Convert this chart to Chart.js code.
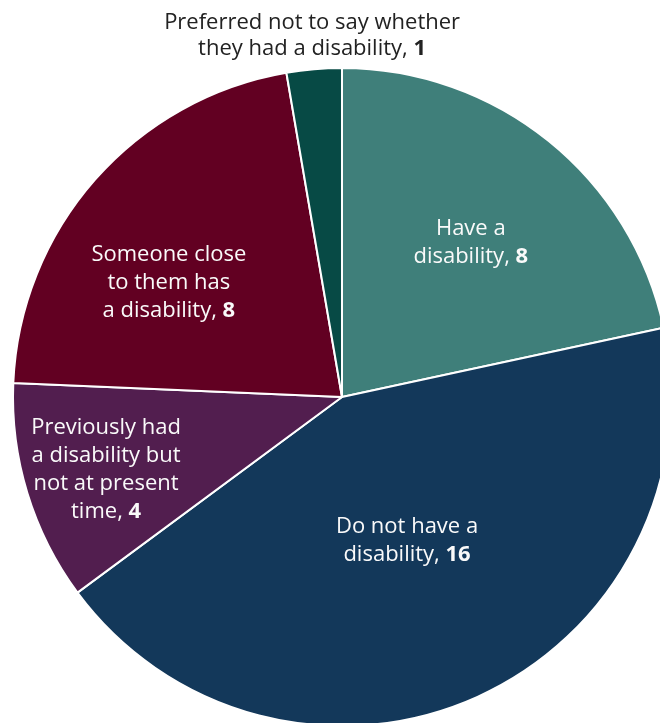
<!DOCTYPE html>
<html lang="en">
<head>
    <meta charset="UTF-8">
    <title>Disability</title>
    <script src="https://cdn.jsdelivr.net/npm/chart.js"></script>
    <style>
        html, body {
            margin: 0;
            padding: 0;
            background: #fff;
            width: 660px;
            height: 723px;
            overflow: hidden;
        }
        #wrap {
            position: absolute;
            left: 0;
            top: 0;
            width: 684px;
            height: 794px;
        }
    </style>
</head>
<body>
    <div id="wrap">
        <canvas id="pieChart"></canvas>
    </div>

    <script>
        // data, clockwise from 12 o'clock
        const categories = [
            'Have a disability',
            'Do not have a disability',
            'Previously had a disability but not at present time',
            'Someone close to them has a disability',
            'Preferred not to say whether they had a disability'
        ];
        const counts = [8, 16, 4, 8, 1];
        const colors = ['#3f7f7a', '#13385a', '#521e4f', '#620022', '#074a45'];

        // label text lines, last line ends with the bold value
        const labelLines = [
            ['Have a', 'disability, '],
            ['Do not have a', 'disability, '],
            ['Previously had', 'a disability but', 'not at present', 'time, '],
            ['Someone close', 'to them has', 'a disability, '],
            ['Preferred not to say whether', 'they had a disability, ']
        ];
        // [radius fraction, angle nudge in degrees]; null radius = outside on top
        const labelPlace = [[0.61, 1], [0.48, 0], [0.75, 0], [0.63, -8], [null, 0]];

        const FONT = '"Open Sans", "Liberation Sans", sans-serif';
        const SIZE = 22;
        const LINE_H = 28;

        function drawLine(ctx, parts, x, y) {
            const normal = `${SIZE}px ${FONT}`;
            const bold = `bold ${SIZE}px ${FONT}`;
            ctx.font = normal;
            const w1 = ctx.measureText(parts[0]).width;
            ctx.font = bold;
            const w2 = parts[1] ? ctx.measureText(parts[1]).width : 0;
            let left = x - (w1 + w2) / 2;
            ctx.textAlign = 'left';
            ctx.font = normal;
            ctx.fillText(parts[0], left, y);
            if (parts[1]) {
                ctx.font = bold;
                ctx.fillText(parts[1], left + w1, y);
            }
        }

        const labelPlugin = {
            id: 'sliceLabels',
            afterDraw(chart) {
                const ctx = chart.ctx;
                const arcs = chart.getDatasetMeta(0).data;
                ctx.save();
                ctx.textBaseline = 'middle';
                arcs.forEach((arc, i) => {
                    const lines = labelLines[i];
                    const place = labelPlace[i];
                    const mid = (arc.startAngle + arc.endAngle) / 2 + place[1] * Math.PI / 180;
                    let x, y0;
                    if (place[0] === null) {
                        // outside label, above the pie
                        ctx.fillStyle = '#222';
                        x = arc.x + arc.outerRadius * Math.cos(mid) - 2;
                        y0 = chart.chartArea.top - 18 - (lines.length - 1) * 26;
                    } else {
                        ctx.fillStyle = '#fafafa';
                        const r = arc.outerRadius * place[0];
                        x = arc.x + r * Math.cos(mid);
                        const y = arc.y + r * Math.sin(mid);
                        y0 = y - (lines.length - 1) * LINE_H / 2;
                    }
                    const lh = place[0] === null ? 26 : LINE_H;
                    lines.forEach((ln, j) => {
                        const last = j === lines.length - 1;
                        drawLine(ctx, [ln, last ? String(counts[i]) : ''], x, y0 + j * lh);
                    });
                });
                ctx.restore();
            }
        };

        new Chart(document.getElementById('pieChart'), {
            type: 'pie',
            data: {
                labels: categories,
                datasets: [{
                    data: counts,
                    backgroundColor: colors,
                    borderColor: '#ffffff',
                    borderWidth: 2
                }]
            },
            options: {
                responsive: true,
                maintainAspectRatio: false,
                animation: false,
                layout: { padding: { top: 67, left: 12, right: 12, bottom: 67 } },
                plugins: {
                    legend: { display: false },
                    tooltip: { enabled: false }
                }
            },
            plugins: [labelPlugin]
        });
    </script>
</body>
</html>
